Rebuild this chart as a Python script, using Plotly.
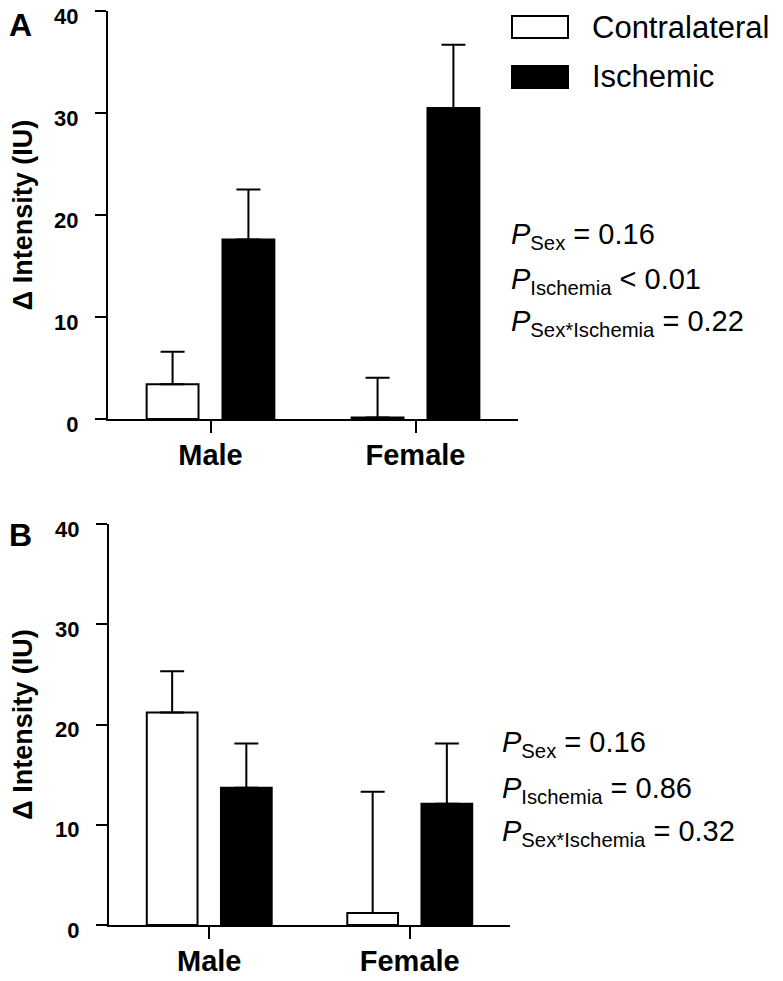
import plotly.graph_objects as go

W, H = 783, 981
OFF = 8  # page body margin

categories = ["Male", "Female"]
series_names = ["Contralateral", "Ischemic"]

# Panel A
a_contra = [3.4, 0.15]
a_contra_err = [3.2, 3.9]
a_isch = [17.6, 30.5]
a_isch_err = [4.9, 6.2]

# Panel B
b_contra = [21.2, 1.2]
b_contra_err = [4.1, 12.1]
b_isch = [13.7, 12.1]
b_isch_err = [4.4, 6.0]

y_ticks = [0, 10, 20, 30, 40]

p_text_a = ["<i>P</i><sub>Sex</sub> = 0.16",
            "<i>P</i><sub>Ischemia</sub> < 0.01",
            "<i>P</i><sub>Sex*Ischemia</sub> = 0.22"]
p_text_b = ["<i>P</i><sub>Sex</sub> = 0.16",
            "<i>P</i><sub>Ischemia</sub> = 0.86",
            "<i>P</i><sub>Sex*Ischemia</sub> = 0.32"]

FONT = "Liberation Sans, Arial, sans-serif"

def px(x):
    return (x - OFF) / W

def py(y):
    return 1 - (y - OFF) / H

fig = go.Figure()

def add_panel(xa, ya, contra, contra_err, isch, isch_err):
    fig.add_trace(go.Bar(
        x=categories, y=contra, name=series_names[0], xaxis=xa, yaxis=ya,
        marker=dict(color="white", line=dict(color="black", width=2)),
        error_y=dict(type="data", array=contra_err, arrayminus=[0, 0], symmetric=False,
                     color="black", thickness=2, width=12),
        showlegend=False))
    fig.add_trace(go.Bar(
        x=categories, y=isch, name=series_names[1], xaxis=xa, yaxis=ya,
        marker=dict(color="black", line=dict(color="black", width=2)),
        error_y=dict(type="data", array=isch_err, arrayminus=[0, 0], symmetric=False,
                     color="black", thickness=2, width=12),
        showlegend=False))

add_panel("x", "y", a_contra, a_contra_err, a_isch, a_isch_err)
add_panel("x2", "y2", b_contra, b_contra_err, b_isch, b_isch_err)

xcommon = dict(range=[-0.5, 1.5], showline=True, linecolor="black", linewidth=2,
               ticks="outside", ticklen=12, tickwidth=2, tickcolor="black",
               showgrid=False, zeroline=False, fixedrange=True, automargin=False,
               ticklabeloverflow="allow",
               tickfont=dict(family=FONT, size=29, color="black", weight="bold"),
               ticklabelstandoff=-3)
ycommon = dict(range=[0, 40], tickvals=y_ticks, showline=True, linecolor="black", linewidth=2,
               ticks="outside", ticklen=11, tickwidth=2, tickcolor="black",
               showgrid=False, zeroline=False, fixedrange=True, automargin=False,
               ticklabeloverflow="allow",
               tickfont=dict(family=FONT, size=22, color="black", weight="bold"),
               ticklabelstandoff=12, ticklabelshift=5,
               title=dict(text="Δ Intensity (IU)", standoff=22,
                          font=dict(family=FONT, size=27, color="black", weight="bold")))

fig.update_layout(
    width=W, height=H,
    margin=dict(l=0, r=0, t=0, b=0, autoexpand=False),
    paper_bgcolor="white", plot_bgcolor="white",
    barmode="group", bargap=0.26, bargroupgap=0.316,
    showlegend=False,
    xaxis=dict(domain=[px(108), px(518)], anchor="y", **xcommon),
    yaxis=dict(domain=[py(419), py(11)], anchor="x", **ycommon),
    xaxis2=dict(domain=[px(109), px(510)], anchor="y2", **xcommon),
    yaxis2=dict(domain=[py(925), py(524)], anchor="x2", **ycommon),
)

ann = []
# Panel letters
ann.append(dict(text="<b>A</b>", x=px(7), y=py(25), xref="paper", yref="paper",
                xanchor="left", yanchor="middle", showarrow=False,
                font=dict(family=FONT, size=32, color="black")))
ann.append(dict(text="<b>B</b>", x=px(7), y=py(535), xref="paper", yref="paper",
                xanchor="left", yanchor="middle", showarrow=False,
                font=dict(family=FONT, size=32, color="black")))

# Legend
legend_rows = [(series_names[0], "white", 16, 38, 27), (series_names[1], "black", 66, 88, 77)]
shapes = []
for name, col, y0, y1, yc in legend_rows:
    shapes.append(dict(type="rect", xref="paper", yref="paper",
                       x0=px(512), x1=px(568), y0=py(y1), y1=py(y0),
                       fillcolor=col, line=dict(color="black", width=2)))
    ann.append(dict(text=name, x=px(590), y=py(yc), xref="paper", yref="paper",
                    xanchor="left", yanchor="middle", showarrow=False,
                    font=dict(family=FONT, size=31, color="black")))

# P-value texts
for txt, yc in zip(p_text_a, [236, 280.5, 323]):
    ann.append(dict(text=txt, x=px(509), y=py(yc), xref="paper", yref="paper",
                    xanchor="left", yanchor="middle", showarrow=False,
                    font=dict(family=FONT, size=29, color="black")))
for txt, yc in zip(p_text_b, [744, 790, 832.5]):
    ann.append(dict(text=txt, x=px(500), y=py(yc), xref="paper", yref="paper",
                    xanchor="left", yanchor="middle", showarrow=False,
                    font=dict(family=FONT, size=29, color="black")))

fig.update_layout(annotations=ann, shapes=shapes)

fig.write_html("out.html")
